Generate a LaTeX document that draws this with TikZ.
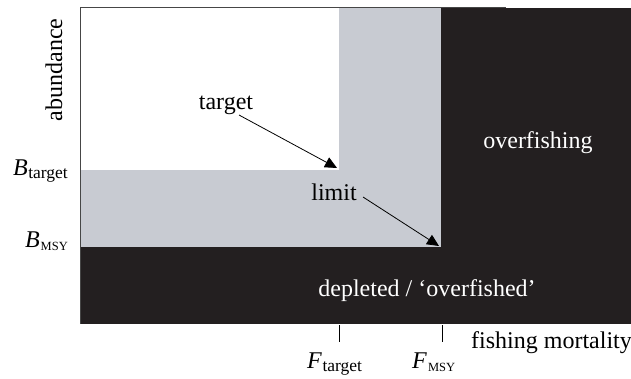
\documentclass[tikz,border=0pt]{standalone}
\usepackage{fontspec}
\setmainfont{Liberation Serif}
\usetikzlibrary{arrows.meta}
\definecolor{darkfill}{RGB}{35,31,32}
\definecolor{grayfill}{RGB}{200,203,210}
\definecolor{axisgray}{RGB}{70,70,70}
\newcommand\sublab[2]{\textit{#1}\kern0.5pt\raisebox{-3pt}{\fontsize{17.5}{18}\selectfont #2}}
\newcommand\msylab[1]{\textit{#1}\kern1pt\raisebox{-3pt}{\fontsize{12.5}{13}\selectfont MSY}}
\tikzset{
  lab/.style={inner sep=0pt, font=\fontsize{24}{28}\selectfont},
  wlab/.style={lab, text=white},
  pointer/.style={line width=0.8pt, -{Triangle[length=12pt,width=11pt]}},
  axisline/.style={axisgray, line width=0.8pt},
  tickline/.style={black, line width=0.6pt}
}
\begin{document}
\begin{tikzpicture}[x=1pt,y=-1pt]
\useasboundingbox (0,0) rectangle (631,378);
% regions
\fill[darkfill] (80,8) rectangle (631,324);
\fill[grayfill] (80,8) rectangle (441,247);
\fill[white] (80,8) rectangle (339,170);
% frame lines
\draw[axisline] (80,7.5) -- (506,7.5);
\draw[axisline] (80,7.5) -- (80,324);
% ticks
\draw[tickline] (339,325) -- (339,342);
\draw[tickline] (442,325) -- (442,342);
% labels
\node[lab, rotate=90, anchor=base] (abund) at (62,70) {abundance};
\node[lab, anchor=base east] (btarget) at (68,175) {\sublab{B}{target}};
\node[lab, anchor=base east] (bmsy) at (68,247) {\msylab{B}};
\node[lab, anchor=base west] (ftarget) at (307,368) {\sublab{F}{target}};
\node[lab, anchor=base west] (fmsy) at (412,368) {\msylab{F}};
\node[lab, anchor=base west] (fm) at (471,348) {fishing mortality};
\node[wlab, anchor=base] (over) at (538,148) {overfishing};
\node[wlab, anchor=base] (depl) at (427,296) {depleted / ‘overfished’};
\node[lab, anchor=base] (limit) at (334,200) {limit};
\node[lab, anchor=base] (target) at (226,109) {target};
% arrows
\coordinate (tstart) at (239,115);
\coordinate (tend) at (337,168);
\coordinate (lstart) at (363,197);
\coordinate (lend) at (439,246);
\draw[pointer] (tstart) -- (tend);
\draw[pointer] (lstart) -- (lend);
\end{tikzpicture}
\end{document}
